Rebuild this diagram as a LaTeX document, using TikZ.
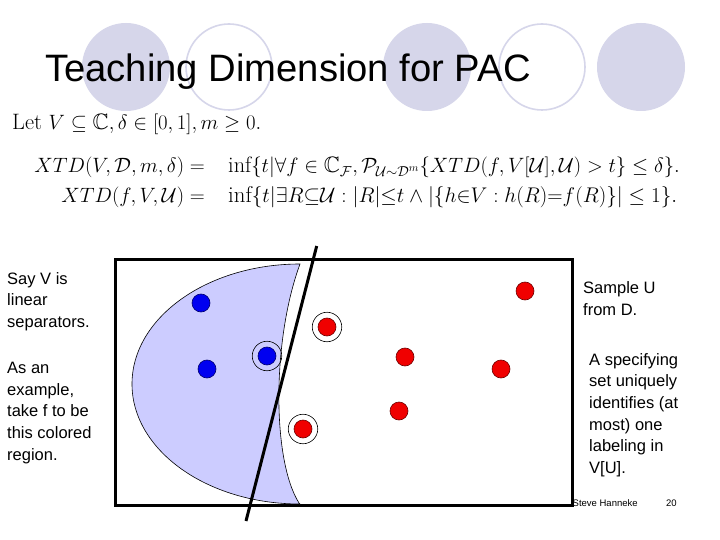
\documentclass[tikz,border=0pt]{standalone}
\usepackage{amssymb}
\usepackage{graphicx}
\usepackage{fontspec}
\newfontfamily\sansfam{Liberation Sans}
\definecolor{deco}{RGB}{214,214,234}
\definecolor{regionfill}{RGB}{204,204,255}
\definecolor{dotblue}{RGB}{0,0,240}
\definecolor{dotred}{RGB}{240,0,0}
\tikzset{
  decofill/.style={circle, fill=deco, minimum size=88pt, inner sep=0pt},
  decoring/.style={circle, draw=deco, line width=1.6pt, minimum size=86pt, inner sep=0pt},
  bdot/.style={circle, fill=dotblue, draw=dotblue!45!black, line width=0.6pt, minimum size=18pt, inner sep=0pt},
  rdot/.style={circle, fill=dotred, draw=dotred!45!black, line width=0.6pt, minimum size=18pt, inner sep=0pt},
  ringmark/.style={circle, draw=black, line width=0.6pt, minimum size=29.5pt, inner sep=0pt},
  sidetext/.style={align=left, inner sep=0pt, font=\sansfam\fontsize{16.5}{21.6}\selectfont},
  mathline/.style={inner sep=0pt, font=\fontsize{22.3}{26}\selectfont},
}
\begin{document}
\begin{tikzpicture}[x=1pt, y=-1pt]
\useasboundingbox (0,0) rectangle (720,540);
\fill[white] (0,0) rectangle (720,540);
% title decorations
\node[decofill] (c1) at (126,67) {};
\node[decoring] (c2) at (229,67) {};
\node[decofill] (c3) at (427,67) {};
\node[decoring] (c4) at (542,67) {};
\node[decofill] (c5) at (641,67) {};
\node[anchor=base west, inner sep=0pt, font=\sansfam\fontsize{38.2}{42}\selectfont] (title) at (45,81.5) {Teaching Dimension for PAC};
% math
\node[mathline, anchor=base west] (let) at (12,130) {Let $V\subseteq\mathbb{C}, \delta\in[0,1], m\geq 0.$};
\node[mathline, anchor=base east] (l1) at (205,173) {$XTD(V,\mathcal{D},m,\delta) =$};
\node[mathline, anchor=base west] (r1) at (228,173) {$\inf\{t|\forall f\in\mathbb{C}_{\mathcal{F}},\mathcal{P}_{\mathcal{U}\sim\mathcal{D}^m}\{XTD(f,V[\mathcal{U}],\mathcal{U})>t\}\leq\delta\}.$};
\node[mathline, anchor=base east] (l2) at (205,203) {$XTD(f,V,\mathcal{U}) =$};
\node[mathline, anchor=base west] (r2) at (228,203) {\resizebox{449pt}{!}{$\inf\{t|\exists R{\subseteq}\mathcal{U}:|R|{\leq}t\wedge|\{h{\in}V:h(R){=}f(R)\}|\leq 1\}.$}};
% box
\node[draw=black, line width=3pt, minimum width=457pt, minimum height=246pt, inner sep=0pt, anchor=north west] (box) at (114,258) {};
% region f
\filldraw[fill=regionfill, draw=black, line width=0.6pt] (300,264) arc[start angle=-90, end angle=-270, x radius=168, y radius=120]
  -- (299,503) .. controls (272,460) and (272,340) .. (300,264) -- cycle;
% separator line
\coordinate (s1) at (316.7,246);
\coordinate (s2) at (246,521);
\draw[line width=3pt] (s1) -- (s2);
% points
\node[bdot] (b1) at (201,303) {};
\node[bdot] (b2) at (207,369) {};
\node[bdot] (b3) at (267,356) {};
\node[ringmark] (rb3) at (b3) {};
\node[rdot] (p1) at (327,327) {};
\node[ringmark] (rp1) at (p1) {};
\node[rdot] (p2) at (303,429) {};
\node[ringmark] (rp2) at (p2) {};
\node[rdot] (p3) at (405,357) {};
\node[rdot] (p4) at (399,411) {};
\node[rdot] (p5) at (501,369) {};
\node[rdot] (p6) at (525,291) {};
% side texts (anchored on the baseline of their last line)
\node[sidetext, anchor=base west] (t1) at (7,327.3) {Say V is\\linear\\separators.};
\node[sidetext, anchor=base west] (t2) at (7,460) {As an\\example,\\take f to be\\this colored\\region.};
\node[sidetext, anchor=base west] (t3) at (583,315) {Sample U\\from D.};
\node[sidetext, anchor=base west] (t4) at (589,473.3) {A specifying\\set uniquely\\identifies (at\\most) one\\labeling in\\V[U].};
\node[anchor=base west, inner sep=0pt, font=\sansfam\fontsize{9.5}{11}\selectfont] (auth) at (572.5,506) {Steve Hanneke};
\node[anchor=base west, inner sep=0pt, font=\sansfam\fontsize{9.5}{11}\selectfont] (pg) at (666,506) {20};
\end{tikzpicture}
\end{document}
